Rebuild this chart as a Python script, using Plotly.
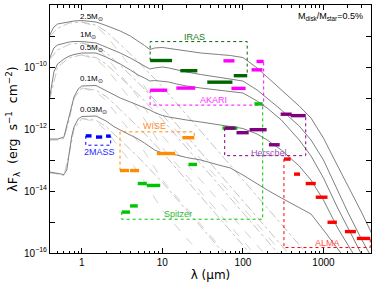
import plotly.graph_objects as go
import math

# ---------------- model SEDs: wavelength (micron), lambda F_lambda (erg s^-1 cm^-2) ----------------
WL_A = [0.4, 0.45, 0.5, 0.6, 0.7, 0.8, 1, 1.5, 2, 3, 4, 5, 6, 7, 8, 10, 12, 15, 20, 30, 50, 70,
        100, 150, 200, 300, 500, 700, 1000, 1500, 2000, 3000, 4000]
SED_25 = [1.08e-9, 1.95e-9, 2.44e-9, 2.72e-9, 2.94e-9, 3.05e-9, 3.16e-9, 2.83e-9, 2.18e-9, 1.45e-9,
          1.0e-9, 6.9e-10, 4.94e-10, 3.67e-10, 4.1e-10, 4.26e-10, 3.95e-10, 3.67e-10, 3.28e-10,
          2.83e-10, 2.53e-10, 2.35e-10, 2.02e-10, 9.3e-11, 4.75e-11, 1.81e-11, 5.5e-12, 2.26e-12,
          5.1e-13, 6.4e-14, 1.56e-14, 1.95e-15, 4.1e-16]
SED_10 = [1.95e-10, 4.1e-10, 5.13e-10, 5.95e-10, 6.4e-10, 6.65e-10, 6.65e-10, 5.95e-10, 4.42e-10,
          2.83e-10, 1.95e-10, 1.4e-10, 1.08e-10, 8.6e-11, 9.3e-11, 1.0e-10, 9.3e-11, 8.0e-11, 6.9e-11,
          5.73e-11, 4.75e-11, 4.25e-11, 3.53e-11, 1.81e-11, 1.0e-11, 4.1e-12, 1.25e-12, 4.42e-13,
          1.0e-13, 1.08e-14, 2.1e-15, 2.62e-16, 6.9e-17]
SED_05 = [1.08e-11, 6.9e-11, 1.25e-10, 1.81e-10, 2.26e-10, 2.53e-10, 2.83e-10, 2.83e-10, 2.1e-10,
          1.25e-10, 8.0e-11, 5.52e-11, 4.42e-11, 3.53e-11, 3.67e-11, 3.53e-11, 3.28e-11, 2.83e-11,
          2.44e-11, 2.1e-11, 1.81e-11, 1.68e-11, 1.45e-11, 8.0e-12, 4.75e-12, 1.95e-12, 4.42e-13,
          1.35e-13, 2.62e-14, 2.83e-15, 6.4e-16, 8.6e-17, 2.83e-17]
WL_B = [0.4, 0.5, 0.6, 0.7, 0.8, 0.9, 1, 1.5, 2, 3, 4, 5, 6, 7, 8, 10, 12, 15, 20, 30, 50, 70,
        100, 150, 200, 300, 500, 700, 1000, 1500, 2000, 3000]
SED_01 = [4.75e-13, 4.75e-13, 5.52e-13, 2.44e-12, 1.08e-11, 1.95e-11, 2.44e-11, 2.53e-11, 1.68e-11,
          1.0e-11, 7.43e-12, 5.95e-12, 4.94e-12, 4.1e-12, 3.4e-12, 2.72e-12, 2.44e-12, 2.18e-12,
          1.95e-12, 1.68e-12, 1.35e-12, 1.2e-12, 1.04e-12, 6.9e-13, 4.42e-13, 2.1e-13, 6.4e-14,
          2.26e-14, 5.1e-15, 6.4e-16, 1.81e-16, 3.28e-17]
WL_C = [0.4, 0.5, 0.6, 0.65, 0.7, 0.75, 0.8, 0.9, 1, 1.5, 2, 2.5, 3, 4, 5, 6, 7, 8, 10, 12, 15, 20,
        30, 50, 70, 100, 150, 200, 300, 500, 700, 1000, 1500, 2000]
SED_003 = [4.1e-14, 3.81e-14, 3.4e-14, 4.75e-14, 1.81e-13, 5.95e-13, 1.16e-12, 2.1e-12, 2.53e-12,
           2.62e-12, 1.81e-12, 1.2e-12, 9.3e-13, 6.4e-13, 4.75e-13, 3.53e-13, 2.62e-13, 2.1e-13,
           1.68e-13, 1.56e-13, 1.45e-13, 1.2e-13, 1.0e-13, 6.9e-14, 5.52e-14, 3.28e-14, 1.68e-14,
           1.08e-14, 5.95e-15, 2.83e-15, 1.81e-15, 5.52e-16, 1.45e-16, 5.1e-17]

# stellar photospheres (dash-dot)
WL_PH = [0.4, 0.5, 0.7, 1, 1.5, 2, 3, 5, 10, 30, 100, 1000]
PH_25 = [9.5e-10, 1.78e-9, 2.63e-9, 2.82e-9, 2.24e-9, 1.41e-9, 5.4e-10, 1.51e-10, 2.29e-11, 8.5e-13, 2.29e-14, 2.29e-17]
PH_10 = [1.78e-10, 3.55e-10, 5.4e-10, 5.9e-10, 4.7e-10, 2.95e-10, 1.12e-10, 3.16e-11, 4.8e-12, 1.78e-13, 4.8e-15, 4.8e-18]
PH_05 = [8.9e-12, 1.0e-10, 2.0e-10, 2.45e-10, 2.0e-10, 1.26e-10, 4.7e-11, 1.32e-11, 2.0e-12, 7.4e-14, 2.0e-15, 2.0e-18]
WL_PH2 = [0.4, 0.5, 0.6, 0.7, 0.8, 1, 1.5, 2, 3, 5, 10, 30, 100, 1000]
PH_01 = [4.4e-13, 4.4e-13, 5.0e-13, 2.1e-12, 1.0e-11, 2.1e-11, 1.78e-11, 1.12e-11, 4.2e-12, 1.17e-12, 1.78e-13, 6.6e-15, 1.78e-16, 1.78e-19]
PH_003 = [3.8e-14, 3.55e-14, 3.16e-14, 1.66e-13, 1.0e-12, 2.19e-12, 1.9e-12, 1.2e-12, 4.4e-13, 1.26e-13, 1.9e-14, 7.1e-16, 1.9e-17, 1.9e-20]

# attenuated stellar component (dashed)
WL_AT = [1, 1.5, 2, 3, 5, 10, 30, 100, 1000]
AT_25 = [2.82e-9, 2.0e-9, 1.05e-9, 2.82e-10, 5.0e-11, 2.88e-12, 1.07e-13, 2.88e-15, 2.88e-18]
AT_10 = [5.9e-10, 4.17e-10, 2.19e-10, 5.9e-11, 1.05e-11, 6.0e-13, 2.24e-14, 6.0e-16, 6.0e-19]
AT_05 = [2.45e-10, 1.78e-10, 9.3e-11, 2.45e-11, 4.37e-12, 2.5e-13, 9.3e-15, 2.5e-16, 2.5e-19]
AT_01 = [2.1e-11, 1.58e-11, 8.3e-12, 2.19e-12, 3.9e-13, 2.24e-14, 8.3e-16, 2.24e-17, 2.24e-20]
AT_003 = [2.19e-12, 1.7e-12, 8.9e-13, 2.29e-13, 4.17e-14, 2.4e-15, 8.9e-17, 2.4e-18, 2.4e-21]

MODEL_LABELS = ["2.5M<sub>⊙</sub>", "1M<sub>⊙</sub>", "0.5M<sub>⊙</sub>", "0.1M<sub>⊙</sub>", "0.03M<sub>⊙</sub>"]
LABEL_FLUX = [4.1e-9, 1.07e-9, 4.1e-10, 4.0e-11, 4.0e-12]
LABEL_WL = 0.89

# ---------------- instrument bands: (lambda_min, lambda_max, flux) ----------------
IRAS_MIN = [7.05, 16.7, 36.1, 76.9]
IRAS_MAX = [13.2, 27.2, 74.1, 113]
IRAS_F = [1.62e-10, 7.6e-11, 3.24e-11, 5.25e-11]
IRAS_LEVEL = 6.6e-10

AKARI_MIN = [7.05, 14.9, 57.3, 72, 128, 147.6]
AKARI_MAX = [11.5, 25.6, 78.5, 108, 175, 181]
AKARI_F = [1.78e-11, 2.09e-11, 1.58e-10, 2.04e-11, 8.1e-11, 1.51e-10]
AKARI_LEVEL = 5.9e-12

WISE_MIN = [2.98, 3.97, 8.55, 17.7]
WISE_MAX = [3.86, 5.14, 14.4, 24.9]
WISE_F = [4.57e-14, 4.57e-14, 1.62e-13, 5.25e-13]
WISE_LEVEL = 8.1e-13

TMASS_MIN = [1.12, 1.50, 2.0]
TMASS_MAX = [1.32, 1.79, 2.28]
TMASS_F = [6.0e-13, 5.5e-13, 5.9e-13]
TMASS_LEVEL = 3.0e-13

SPITZER_MIN = [3.13, 3.97, 4.95, 6.41, 21.1, 55.6, 139]
SPITZER_MAX = [3.97, 4.95, 6.41, 9.4, 26.9, 85.5, 176]
SPITZER_F = [2.09e-15, 3.3e-15, 1.74e-14, 1.51e-14, 7.2e-14, 1.07e-12, 6.45e-12]
SPITZER_LEVEL = 1.23e-15

HERSCHEL_MIN = [59.4, 83.2, 121, 210, 294, 392]
HERSCHEL_MAX = [80.8, 118, 197, 286, 403, 602]
HERSCHEL_F = [1.07e-12, 7.6e-13, 9.5e-13, 3.1e-13, 3.0e-12, 2.7e-12]
HERSCHEL_LEVEL = 1.38e-13

ALMA_MIN = [323, 431, 602, 802, 1122, 1845, 2600]
ALMA_MAX = [392, 511, 802, 1122, 1466, 2529, 3810]
ALMA_F = [1.07e-13, 3.5e-14, 1.74e-14, 6.3e-15, 9.8e-16, 4.9e-16, 2.95e-16]
ALMA_LEVEL = 1.5e-16

X_TICKS = [1, 10, 100, 1000]
X_MINOR = [0.5, 0.6, 0.7, 0.8, 0.9, 2, 3, 4, 5, 6, 7, 8, 9, 20, 30, 40, 50, 60, 70, 80, 90,
           200, 300, 400, 500, 600, 700, 800, 900, 2000, 3000]
Y_TICKS = [1e-16, 1e-14, 1e-12, 1e-10, 1e-8]
Y_TICKTEXT = ["10<sup>−16</sup>", "10<sup>−14</sup>", "10<sup>−12</sup>", "10<sup>−10</sup>", "10<sup>−8</sup>"]
Y_MINOR = [1e-15, 1e-13, 1e-11, 1e-9]

FONT = "Liberation Sans, Arial, sans-serif"
TITLE_FONT = "DejaVu Sans, sans-serif"
fig = go.Figure()

# attenuated star (light grey dashed)
for ph in [AT_25, AT_10, AT_05, AT_01, AT_003]:
    fig.add_trace(go.Scatter(x=WL_AT, y=ph, mode="lines", hoverinfo="skip",
                             line=dict(color="#d2d2d2", width=1, dash="dash")))

# photospheres (light grey dash-dot)
for wl, ph in [(WL_PH, PH_25), (WL_PH, PH_10), (WL_PH, PH_05), (WL_PH2, PH_01), (WL_PH2, PH_003)]:
    fig.add_trace(go.Scatter(x=wl, y=ph, mode="lines", hoverinfo="skip",
                             line=dict(color="#c4c4c4", width=1, dash="dashdot")))

# full models (grey)
for wl, sed in [(WL_A, SED_25), (WL_A, SED_10), (WL_A, SED_05), (WL_B, SED_01), (WL_C, SED_003)]:
    fig.add_trace(go.Scatter(x=wl, y=sed, mode="lines", hoverinfo="skip",
                             line=dict(color="#7f7f7f", width=1)))

instruments = [
    ("IRAS", IRAS_MIN, IRAS_MAX, IRAS_F, IRAS_LEVEL, "#006400", "#207a20", (25, 9.3e-10)),
    ("AKARI", AKARI_MIN, AKARI_MAX, AKARI_F, AKARI_LEVEL, "#ff00ff", "#ff33ff", (43, 8.7e-12)),
    ("WISE", WISE_MIN, WISE_MAX, WISE_F, WISE_LEVEL, "#ff8c00", "#ff8c30", (7.9, 1.26e-12)),
    ("2MASS", TMASS_MIN, TMASS_MAX, TMASS_F, TMASS_LEVEL, "#0000ff", "#2a2aff", (1.68, 1.82e-13)),
    ("Spitzer", SPITZER_MIN, SPITZER_MAX, SPITZER_F, SPITZER_LEVEL, "#00c400", "#33b833", (15.7, 1.82e-15)),
    ("Herschel", HERSCHEL_MIN, HERSCHEL_MAX, HERSCHEL_F, HERSCHEL_LEVEL, "#800080", "#9b59b6", (208, 1.74e-13)),
    ("ALMA", ALMA_MIN, ALMA_MAX, ALMA_F, ALMA_LEVEL, "#ff0000", "#ff5050", (1130, 2.1e-16)),
]

for name, lo, hi, fl, level, col, lcol, lpos in instruments:
    # bracket connecting first and last band to the label level
    i0 = lo.index(min(lo))
    i1 = hi.index(max(hi))
    fig.add_trace(go.Scatter(
        x=[lo[i0], lo[i0], hi[i1], hi[i1]], y=[fl[i0], level, level, fl[i1]],
        mode="lines", hoverinfo="skip", line=dict(color=col, width=1, dash="dot")))
    bx, by = [], []
    for a, b, f in zip(lo, hi, fl):
        bx += [a, b, None]
        by += [f, f, None]
    fig.add_trace(go.Scatter(x=bx, y=by, mode="lines", hoverinfo="skip",
                             line=dict(color=col, width=3.4)))
    fig.add_annotation(x=math.log10(lpos[0]), y=math.log10(lpos[1]), text=name, showarrow=False,
                       font=dict(family=FONT, size=9, color=lcol), xanchor="center", yanchor="middle")

for lab, fy in zip(MODEL_LABELS, LABEL_FLUX):
    fig.add_annotation(x=math.log10(LABEL_WL), y=math.log10(fy), text=lab, showarrow=False,
                       font=dict(family=FONT, size=8, color="black"), xanchor="left", yanchor="middle")

fig.add_annotation(xref="paper", yref="paper", x=0.98, y=0.952,
                   text="M<sub>disk</sub>/M<sub>star</sub>=0.5%", showarrow=False,
                   font=dict(family=FONT, size=9, color="black"), xanchor="right", yanchor="middle")

axis_common = dict(showgrid=False, zeroline=False, showline=True, linecolor="black", linewidth=1,
                   mirror="allticks", ticks="inside", ticklen=5, tickcolor="black",
                   tickfont=dict(family=FONT, size=10, color="black"))

fig.update_xaxes(type="log", range=[-0.395, 3.59], tickmode="array", tickvals=X_TICKS,
                 ticktext=[str(v) for v in X_TICKS],
                 minor=dict(ticks="inside", ticklen=2.5, tickcolor="black", tickvals=X_MINOR),
                 title=dict(text="λ (μm)", font=dict(family=TITLE_FONT, size=12, color="black"), standoff=3),
                 **axis_common)
fig.update_yaxes(type="log", range=[-16, -8], tickmode="array", tickvals=Y_TICKS, ticktext=Y_TICKTEXT,
                 minor=dict(ticks="inside", ticklen=5, tickcolor="black", tickvals=Y_MINOR),
                 title=dict(text="λF<sub>λ</sub>  (erg  s<sup>−1</sup>  cm<sup>−2</sup>)",
                            font=dict(family=TITLE_FONT, size=12.5, color="black"), standoff=3),
                 **axis_common)

fig.update_layout(width=373, height=284, margin=dict(l=50, r=2, t=5, b=31, autoexpand=False),
                  paper_bgcolor="white", plot_bgcolor="white", showlegend=False)

fig.write_html("out.html", config={"displayModeBar": False},
               post_script="document.body.style.margin='0';document.body.style.padding='0';")
